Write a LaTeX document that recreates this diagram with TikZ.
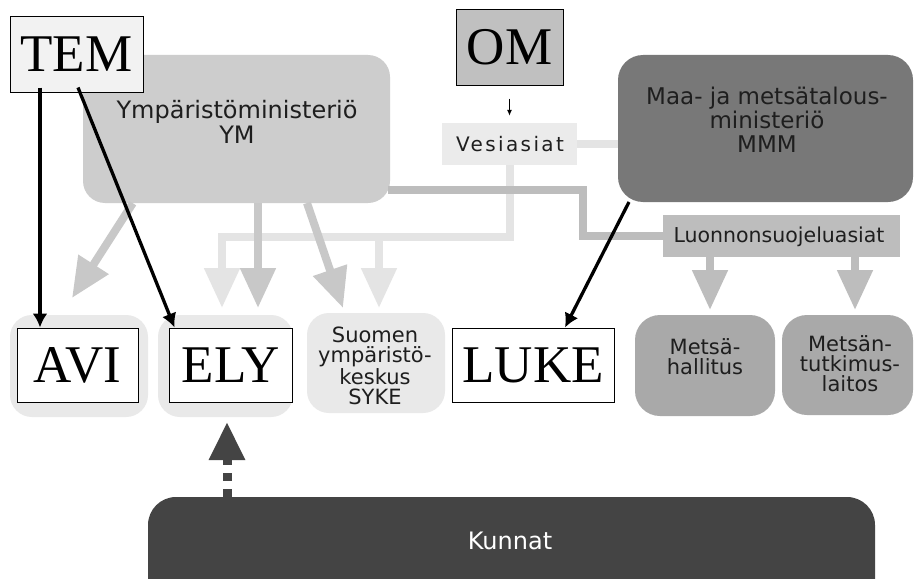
\documentclass[tikz,border=0pt]{standalone}
\usepackage{fontspec}
\usetikzlibrary{arrows.meta,calc}
\newfontfamily\dvs{DejaVu Sans}
\newfontfamily\dvsls[LetterSpace=12]{DejaVu Sans}
\newfontfamily\tnr{Liberation Serif}
\definecolor{ymfill}{HTML}{CDCDCD}
\definecolor{ymarr}{HTML}{C8C8C8}
\definecolor{darkln}{HTML}{BDBDBD}
\definecolor{lightln}{HTML}{E4E4E4}
\definecolor{vesfill}{HTML}{EBEBEB}
\definecolor{botfill}{HTML}{E9E9E9}
\definecolor{mmmfill}{HTML}{787878}
\definecolor{metfill}{HTML}{A9A9A9}
\definecolor{kunfill}{HTML}{444444}
\definecolor{temfill}{HTML}{F2F2F2}
\definecolor{omfill}{HTML}{C0C0C0}
\definecolor{txt}{HTML}{1E1E1E}
\begin{document}
\begin{tikzpicture}[x=1pt,y=-1pt,
  rbox/.style={rectangle, rounded corners=20pt, inner sep=0pt, draw=none},
  wbox/.style={rectangle, draw=black, line width=1pt, inner sep=0pt,
     font=\tnr\fontsize{53}{60}\selectfont, minimum height=74pt},
  sans/.style={font=\dvs\fontsize{21}{20}\selectfont, align=center, text=txt, inner sep=0pt},
  bigtip/.style={-{Triangle[width=34pt,length=40pt]}},
  ymln/.style={draw=ymarr, line width=8pt},
  darkline/.style={draw=darkln, line width=8pt},
  lightline/.style={draw=lightln, line width=8pt},
  blk/.style={draw=black, line width=3.3pt, -{Latex[length=14pt,width=15pt]}}
]
\useasboundingbox (0,0) rectangle (915,578);
\fill[white] (0,0) rectangle (915,578);

% big grey boxes
\node[rbox, fill=ymfill, rounded corners=22pt, minimum width=307pt, minimum height=148pt] (ym) at (236.5,129) {};
\node[sans, font=\dvs\fontsize{24}{25}\selectfont] (ymt) at (237,122) {Ympäristöministeriö\\YM};

\node[rbox, fill=mmmfill, rounded corners=25pt, minimum width=295pt, minimum height=147pt] (mmm) at (765.5,128.5) {};
\node[sans, font=\dvs\fontsize{23}{24}\selectfont] (mmmt) at (767,120) {Maa- ja metsätalous-\\ministeriö\\MMM};

\node[rectangle, fill=vesfill, minimum width=135pt, minimum height=42pt, inner sep=0pt] (ves) at (509.5,144) {};
\node[sans, font=\dvsls\fontsize{20}{20}\selectfont] (vest) at (510,144) {Vesiasiat};

\node[rectangle, fill=darkln, minimum width=237pt, minimum height=42pt, inner sep=0pt] (luo) at (781.5,236) {};
\node[sans, font=\dvs\fontsize{20.5}{20}\selectfont] (luot) at (779,237) {Luonnonsuojeluasiat};

% bottom row boxes
\node[rbox, fill=botfill, rounded corners=22pt, minimum width=138pt, minimum height=102pt] (avib) at (79,366) {};
\node[rbox, fill=botfill, rounded corners=22pt, minimum width=135pt, minimum height=102pt] (elyb) at (225.5,366) {};
\node[rbox, fill=botfill, rounded corners=22pt, minimum width=138pt, minimum height=100pt] (sykeb) at (376,363) {};
\node[sans] (syket) at (375,366) {Suomen\\ympäristö-\\keskus\\SYKE};
\node[rbox, fill=metfill, rounded corners=25pt, minimum width=140pt, minimum height=101pt] (met1) at (705,365.5) {};
\node[sans] (met1t) at (705,357) {Metsä-\\hallitus};
\node[rbox, fill=metfill, rounded corners=25pt, minimum width=131pt, minimum height=100pt] (met2) at (847.5,365) {};
\node[sans] (met2t) at (850,364) {Metsän-\\tutkimus-\\laitos};

\node[rbox, fill=kunfill, rounded corners=28pt, minimum width=727pt, minimum height=113pt] (kun) at (511.5,553.5) {};
\node[sans, text=white, font=\dvs\fontsize{24}{24}\selectfont] (kunt) at (510,541) {Kunnat};

% light (Vesiasiat) connectors
\draw[lightline] (ves.east) -- (mmm.west |- ves.east);
\draw[lightline, bigtip] (ves.south) |- (222,237) -- (222,308);
\draw[lightline, bigtip] (379,237) -- (379,308);

% YM connectors
\draw[ymln, bigtip] ($(ym.south west)+(50,0)$) -- (72,298);
\draw[ymln, bigtip] (258,203) -- (258,308);
\draw[ymln, bigtip] (307,203) -- (343,308);

% YM to Luonnonsuojeluasiat
\draw[darkline] (388,190) -- (583,190) |- (luo.west);
\draw[darkline, bigtip] (710,257) -- (710,310);
\draw[darkline, bigtip] (855,257) -- (855,310);

% Kunnat dashed arrow
\draw[draw=kunfill, line width=9pt, dash pattern=on 8pt off 8pt, -{Triangle[width=34pt,length=38pt]}] (kun.north -| 227,0) -- (227,422);

% white label boxes
\node[wbox, fill=temfill, minimum width=133pt, minimum height=75pt] (tem) at (76.5,54.5) {TEM};
\node[wbox, fill=omfill, minimum width=107pt, minimum height=75pt] (om) at (509.5,47.5) {OM};
\node[wbox, fill=white, minimum width=121pt] (avi) at (77.5,365) {AVI};
\node[wbox, fill=white, minimum width=123pt] (ely) at (230.5,365) {ELY};
\node[wbox, fill=white, minimum width=162pt] (luke) at (533,365) {LUKE};

% black arrows
\draw[blk] ($(tem.south -| 40,0)+(0,-5)$) -- (avi.north -| 40,0);
\draw[blk] ($(tem.south)+(1.5,-5)$) -- ($(ely.north west)+(6,0)$);
\draw[blk] (629,202) -- ($(luke.north)+(32,0)$);
\draw[black, line width=1pt, -{Latex[length=6pt,width=5pt]}] ($(om.south)+(0,13)$) -- ($(ves.north)+(0,-7)$);
\end{tikzpicture}
\end{document}
